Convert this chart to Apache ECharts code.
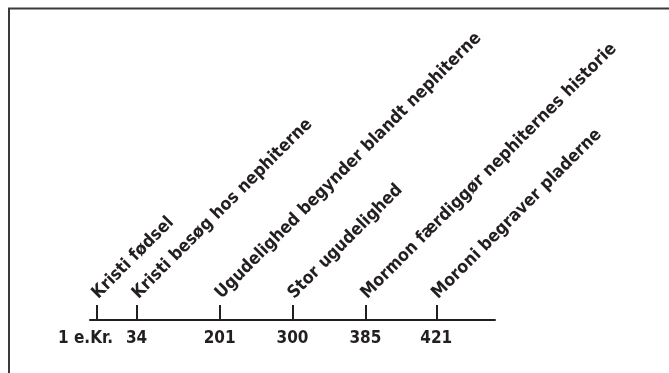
<!DOCTYPE html>
<html>
<head>
<meta charset="utf-8">
<script src="https://cdn.jsdelivr.net/npm/echarts@6/dist/echarts.min.js"></script>
<style>
  html, body { margin: 0; padding: 0; background: #fff; }
  #chart { width: 669px; height: 373px; }
</style>
</head>
<body>
<div id="chart"></div>
<script>
// schematic timeline: the original is not drawn to scale, so each event
// gets a slot on a 0-100 axis
var yearLabels = ['1 e.Kr.', '34', '201', '300', '385', '421'];
var eventNames = [
    'Kristi fødsel',
    'Kristi besøg hos nephiterne',
    'Ugudelighed begynder blandt nephiterne',
    'Stor ugudelighed',
    'Mormon færdiggør nephiternes historie',
    'Moroni begraver pladerne'
];
var timelinePos = [1.6, 11.5, 32, 50, 68, 85.5];

var ink = '#231f20';
var font = '"DejaVu Sans Condensed", "Liberation Sans Narrow", sans-serif';

var myChart = echarts.init(document.getElementById('chart'));

var points = timelinePos.map(function (p, i) {
    return { value: [p, 0], name: eventNames[i] };
});

var option = {
    animation: false,
    graphic: [{
        type: 'rect',
        shape: { x: 9, y: 8.5, width: 700, height: 420 },
        style: { fill: 'none', stroke: '#3a3a3a', lineWidth: 2 }
    }],
    grid: { left: 90, right: 174, top: 20, bottom: 53 },
    xAxis: {
        type: 'value',
        min: 0,
        max: 100,
        splitLine: { show: false },
        axisLine: { lineStyle: { color: ink, width: 2 } },
        axisTick: {
            customValues: timelinePos,
            inside: true,
            length: 15,
            lineStyle: { color: ink, width: 2 }
        },
        axisLabel: {
            customValues: timelinePos,
            margin: 10,
            color: ink,
            fontFamily: font,
            fontWeight: 'bold',
            fontSize: 17,
            formatter: function (v) {
                var i = timelinePos.indexOf(v);
                if (i === 0) return '{first|' + yearLabels[i] + '}';
                return i < 0 ? '' : yearLabels[i];
            },
            rich: {
                first: {
                    color: ink, fontFamily: font, fontWeight: 'bold', fontSize: 17,
                    padding: [0, 22, 0, 0]
                }
            }
        }
    },
    yAxis: { type: 'value', min: 0, max: 1, show: false },
    series: [{
        type: 'scatter',
        data: points,
        symbolSize: 1,
        itemStyle: { color: 'rgba(0,0,0,0)', opacity: 1 },
        label: {
            show: true,
            position: 'inside',
            formatter: '{b}',
            rotate: 45,
            align: 'left',
            verticalAlign: 'middle',
            offset: [16, -18],
            color: ink,
            fontFamily: font,
            fontWeight: 'bold',
            fontSize: 17.5
        }
    }]
};

myChart.setOption(option);
</script>
</body>
</html>
